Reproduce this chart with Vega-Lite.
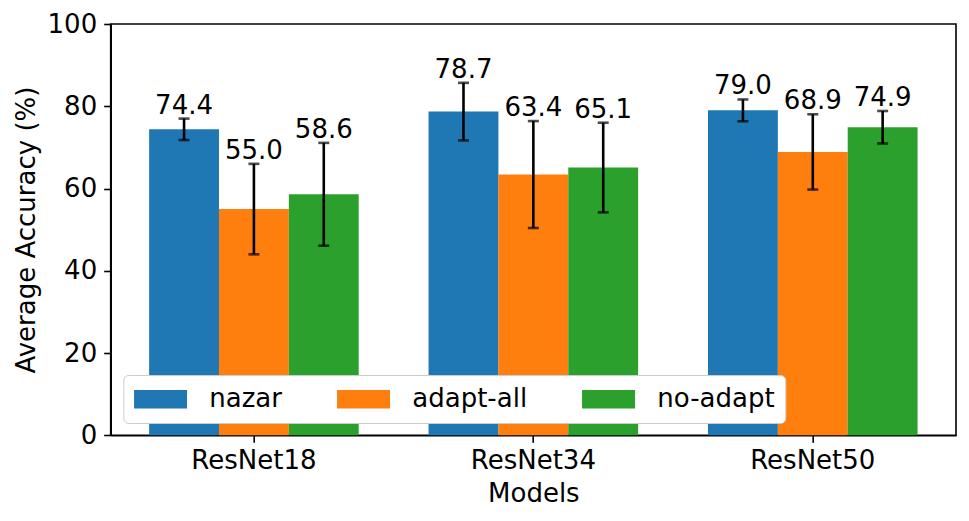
{
  "$schema": "https://vega.github.io/schema/vega-lite/v6.json",
  "autosize": {"type": "none"},
  "padding": {"left": 110.7, "top": 24, "right": 13, "bottom": 85.7},
  "width": 845.3,
  "height": 411.3,
  "background": "white",
  "config": {
    "font": "DejaVu Sans",
    "view": {"stroke": "black", "strokeWidth": 1.6},
    "axis": {
      "domainColor": "black",
      "domainWidth": 1.6,
      "tickColor": "black",
      "tickWidth": 1.6,
      "tickSize": 7,
      "labelColor": "black",
      "titleColor": "black",
      "labelFont": "DejaVu Sans",
      "titleFont": "DejaVu Sans",
      "labelFontSize": 26,
      "titleFontSize": 26,
      "titleFontWeight": "normal",
      "grid": false
    }
  },
  "data": {
    "values": [
      {"model": "ResNet18", "method": "nazar", "acc": 74.4, "lo": 71.8, "hi": 77.0},
      {"model": "ResNet18", "method": "adapt-all", "acc": 55.0, "lo": 44.0, "hi": 66.0},
      {"model": "ResNet18", "method": "no-adapt", "acc": 58.6, "lo": 46.1, "hi": 71.1},
      {"model": "ResNet34", "method": "nazar", "acc": 78.7, "lo": 71.7, "hi": 85.7},
      {"model": "ResNet34", "method": "adapt-all", "acc": 63.4, "lo": 50.4, "hi": 76.4},
      {"model": "ResNet34", "method": "no-adapt", "acc": 65.1, "lo": 54.2, "hi": 76.0},
      {"model": "ResNet50", "method": "nazar", "acc": 79.0, "lo": 76.35, "hi": 81.65},
      {"model": "ResNet50", "method": "adapt-all", "acc": 68.9, "lo": 59.75, "hi": 78.05},
      {"model": "ResNet50", "method": "no-adapt", "acc": 74.9, "lo": 70.95, "hi": 78.85}
    ]
  },
  "encoding": {
    "x": {
      "field": "model",
      "type": "nominal",
      "scale": {"paddingInner": 0.25, "paddingOuter": 0.1375},
      "axis": {
        "title": "Models",
        "labelAngle": 0,
        "labelBaseline": "alphabetic",
        "labelPadding": 26,
        "titleBaseline": "alphabetic",
        "titleY": 66.4
      }
    },
    "xOffset": {
      "field": "method",
      "type": "nominal",
      "scale": {"domain": ["nazar", "adapt-all", "no-adapt"], "paddingInner": 0, "paddingOuter": 0}
    }
  },
  "layer": [
    {
      "mark": {"type": "bar"},
      "encoding": {
        "y": {
          "field": "acc",
          "type": "quantitative",
          "scale": {"domain": [0, 100], "nice": false},
          "axis": {
            "values": [0, 20, 40, 60, 80, 100],
            "title": "Average Accuracy (%)",
            "labelPadding": 7,
            "titleBaseline": "alphabetic",
            "titleAngle": -90,
            "titleX": -76.7,
            "titleY": 205.6,
            "titleAlign": "center"
          }
        },
        "color": {
          "field": "method",
          "type": "nominal",
          "scale": {"domain": ["nazar", "adapt-all", "no-adapt"], "range": ["#1f77b4", "#ff7f0e", "#2ca02c"]},
          "legend": {
            "title": null,
            "orient": "none",
            "legendX": 12.6,
            "legendY": 351,
            "direction": "horizontal",
            "symbolType": "M-2,-0.7H2V0.7H-2Z",
            "symbolSize": 702,
            "symbolStrokeWidth": 0,
            "symbolOpacity": 1,
            "symbolOffset": 13.25,
            "labelOffset": 35.25,
            "columnPadding": 54,
            "labelFontSize": 26,
            "labelFont": "DejaVu Sans",
            "labelColor": "black",
            "padding": 10.5,
            "fillColor": "white",
            "strokeColor": "#cccccc",
            "cornerRadius": 5
          }
        }
      }
    },
    {
      "mark": {"type": "rule", "color": "black", "strokeWidth": 2.6},
      "encoding": {
        "y": {"field": "lo", "type": "quantitative"},
        "y2": {"field": "hi"}
      }
    },
    {
      "mark": {"type": "tick", "color": "black", "thickness": 2.6, "size": 11},
      "encoding": {
        "y": {"field": "hi", "type": "quantitative"}
      }
    },
    {
      "mark": {"type": "tick", "color": "black", "thickness": 2.6, "size": 11},
      "encoding": {
        "y": {"field": "lo", "type": "quantitative"}
      }
    },
    {
      "mark": {"type": "text", "fontSize": 26, "baseline": "alphabetic", "dy": -5, "color": "black", "font": "DejaVu Sans"},
      "encoding": {
        "y": {"field": "hi", "type": "quantitative"},
        "text": {"field": "acc", "type": "quantitative", "format": ".1f"}
      }
    }
  ]
}
